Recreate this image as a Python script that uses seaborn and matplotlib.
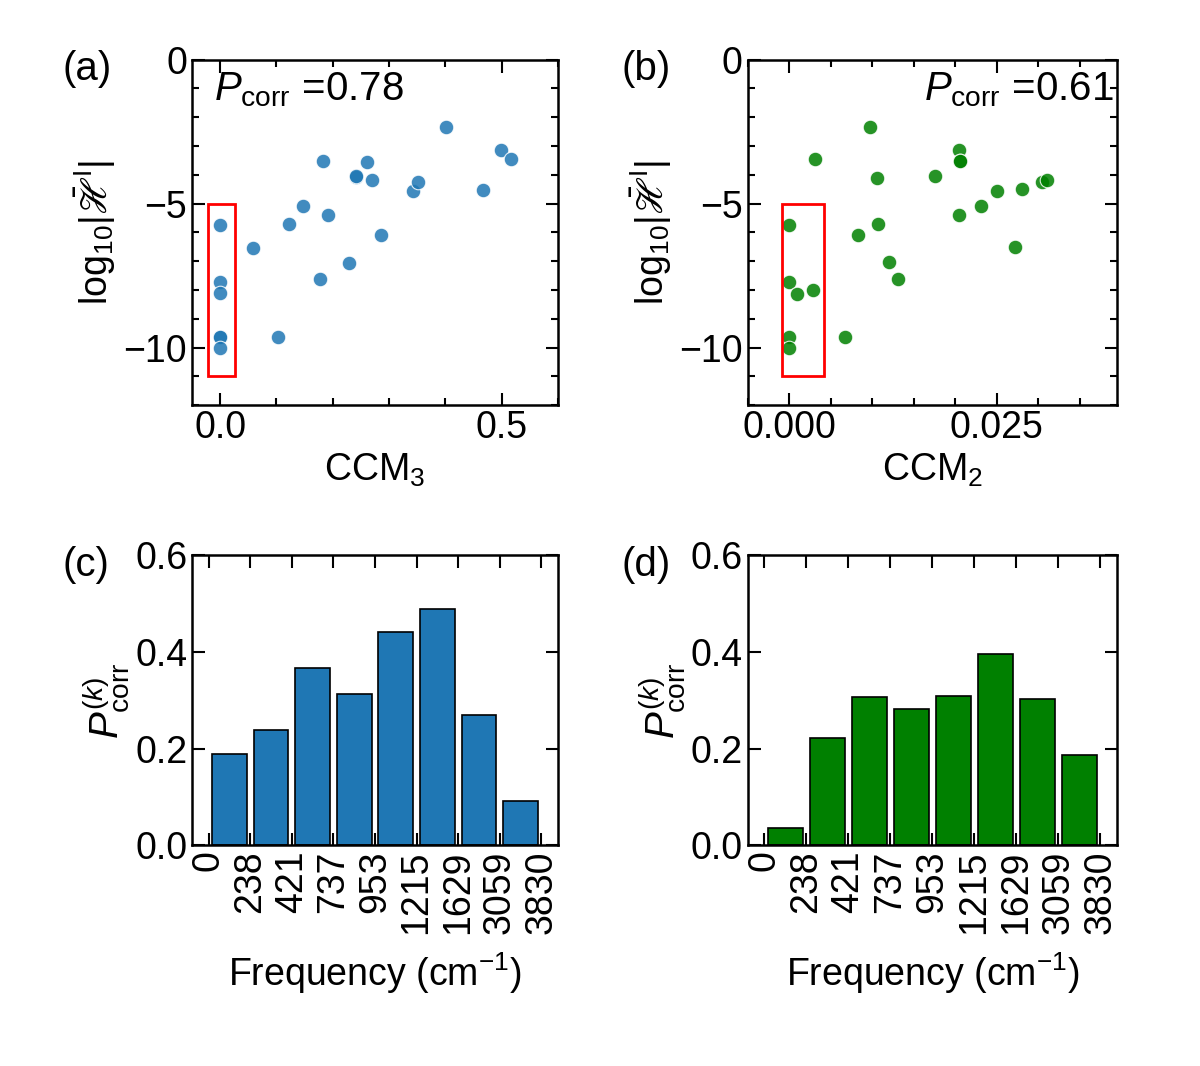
import matplotlib
matplotlib.use("Agg")
import matplotlib.pyplot as plt
import seaborn as sns
import pandas as pd
import numpy as np
from matplotlib.patches import Rectangle
from matplotlib.ticker import MultipleLocator

sns.set_style("ticks")
plt.rcParams['font.family'] = ['Liberation Sans', 'DejaVu Sans']
plt.rcParams['mathtext.fontset'] = 'custom'
plt.rcParams['mathtext.rm'] = 'Liberation Sans'
plt.rcParams['mathtext.it'] = 'Liberation Sans:italic'
plt.rcParams['mathtext.fallback'] = 'stixsans'
for k in ['text.color', 'axes.labelcolor', 'xtick.color', 'ytick.color', 'axes.edgecolor']:
    plt.rcParams[k] = 'black'

ccm3 = [0, 0, 0, 0, 0, 0, 0.059, 0.102, 0.123, 0.148, 0.177, 0.183, 0.191, 0.228, 0.241, 0.242,
        0.260, 0.270, 0.285, 0.342, 0.351, 0.401, 0.466, 0.498, 0.517]
logh_a = [-5.74, -7.74, -8.11, -9.64, -9.64, -10.0, -6.53, -9.65, -5.71, -5.09, -7.62, -3.53, -5.38,
          -7.05, -4.06, -4.05, -3.55, -4.19, -6.10, -4.56, -4.25, -2.33, -4.51, -3.13, -3.46]
ccm2 = [0, 0, 0.00094, 0.0029, 0, 0, 0.00306, 0.00677, 0.00824, 0.0097, 0.01064, 0.01073, 0.0120,
        0.0131, 0.01758, 0.0204, 0.0206, 0.0206, 0.0204, 0.0231, 0.0250, 0.0272, 0.0280, 0.0304, 0.0310]
logh_b = [-5.74, -7.74, -8.13, -7.99, -9.64, -10.0, -3.46, -9.65, -6.10, -2.33, -4.10, -5.71, -7.04,
          -7.62, -4.05, -3.13, -3.53, -3.53, -5.38, -5.09, -4.56, -6.50, -4.50, -4.24, -4.19]
freq_labels = ['0', '238', '421', '737', '953', '1215', '1629', '3059', '3830']
pk_c = [0.188, 0.238, 0.368, 0.314, 0.442, 0.490, 0.270, 0.092]
pk_d = [0.035, 0.222, 0.307, 0.282, 0.309, 0.396, 0.302, 0.186]

FS = 27
fig = plt.figure(figsize=(12, 10.66), dpi=100)
axa = fig.add_axes([0.16, 0.620, 0.305, 0.324])
axb = fig.add_axes([0.623, 0.620, 0.308, 0.324])
axc = fig.add_axes([0.16, 0.207, 0.305, 0.272])
axd = fig.add_axes([0.623, 0.207, 0.308, 0.272])

def style(ax):
    ax.tick_params(which='both', direction='in', top=True, right=True, labelsize=FS, width=1.5)
    ax.tick_params(which='major', length=9)
    ax.tick_params(which='minor', length=5)
    for s in ax.spines.values():
        s.set_linewidth(1.8)

# scatter panels
ylab = r'$\mathrm{log}_{10}|\bar{\mathscr{H}}^{\mathrm{I}}|$'
for ax, x, y, col, xl, xlim, maj, mnr, rect, txt, ha, tx in [
    (axa, ccm3, logh_a, '#1f77b4', r'CCM$_3$', (-0.05, 0.6), 0.5, 0.1, (-0.021, 0.048), r'$P_{\mathrm{corr}}$ =0.78', 'left', 0.06),
    (axb, ccm2, logh_b, 'green', r'CCM$_2$', (-0.005, 0.0395), 0.025, 0.005, (-0.0009, 0.0051), r'$P_{\mathrm{corr}}$ =0.61', 'right', 0.99)]:
    sns.scatterplot(x=x, y=y, ax=ax, color=col, alpha=0.85, s=110, edgecolor='white', linewidth=0.8)
    ax.set_xlim(*xlim)
    ax.set_ylim(-12, 0)
    ax.xaxis.set_major_locator(MultipleLocator(maj))
    ax.xaxis.set_minor_locator(MultipleLocator(mnr))
    ax.yaxis.set_major_locator(MultipleLocator(5))
    ax.yaxis.set_minor_locator(MultipleLocator(1))
    ax.set_xlabel(xl, fontsize=FS)
    ax.set_ylabel(ylab, fontsize=FS)
    ax.add_patch(Rectangle((rect[0], -11), rect[1], 6, fill=False, edgecolor='red', linewidth=2))
    ax.text(tx, 0.97, txt, transform=ax.transAxes, ha=ha, va='top', fontsize=FS + 2)
    style(ax)
axa.xaxis.set_major_formatter(matplotlib.ticker.FormatStrFormatter('%.1f'))
axb.xaxis.set_major_formatter(matplotlib.ticker.FormatStrFormatter('%.3f'))

# bar panels
pos = np.arange(8)
for ax, vals, col in [(axc, pk_c, '#1f77b4'), (axd, pk_d, 'green')]:
    df = pd.DataFrame({'pos': pos, 'val': vals})
    sns.barplot(data=df, x='pos', y='val', ax=ax, color=col, saturation=1, width=0.84,
                edgecolor='black', linewidth=1.2, native_scale=True)
    ax.set_xlim(-0.9, 7.9)
    ax.set_ylim(0, 0.6)
    ax.set_xticks(np.arange(9) - 0.5)
    ax.set_xticklabels(freq_labels, rotation=90)
    ax.yaxis.set_major_locator(MultipleLocator(0.2))
    ax.yaxis.set_major_formatter(matplotlib.ticker.FormatStrFormatter('%.1f'))
    ax.set_xlabel(r'Frequency (cm$^{-1}$)', fontsize=FS, labelpad=12)
    ax.set_ylabel(r'$P_{\mathrm{corr}}^{(k)}$', fontsize=FS + 2, labelpad=2)
    style(ax)

for lab, x, y in [('(a)', 0.052, 0.935), ('(b)', 0.518, 0.935), ('(c)', 0.052, 0.47), ('(d)', 0.518, 0.47)]:
    fig.text(x, y, lab, fontsize=FS + 2, va='center')

fig.savefig('out.png', dpi=100)
